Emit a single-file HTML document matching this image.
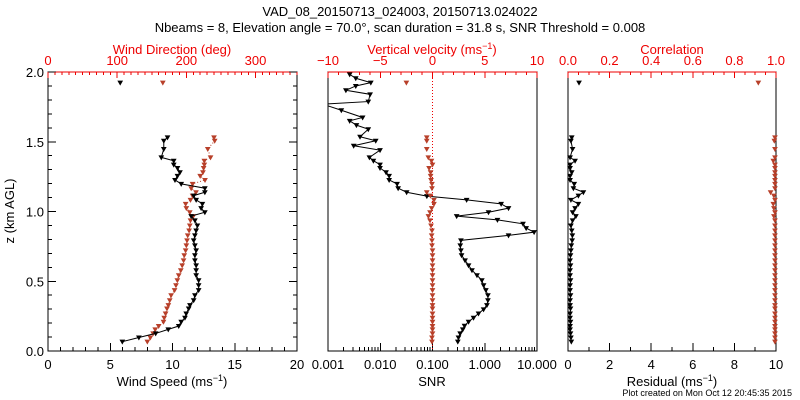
<!DOCTYPE html>
<html><head><meta charset="utf-8"><style>
html,body{margin:0;padding:0;background:#fff;}
svg{display:block;font-family:"Liberation Sans",sans-serif;}
</style></head><body>
<svg id="c" width="800" height="400" xmlns="http://www.w3.org/2000/svg">
<text x="400" y="16" text-anchor="middle" font-size="13">VAD_08_20150713_024003, 20150713.024022</text>
<text x="400" y="32" text-anchor="middle" font-size="13">Nbeams = 8, Elevation angle = 70.0°, scan duration = 31.8 s, SNR Threshold = 0.008</text>
<text x="172" y="54" text-anchor="middle" font-size="13" fill="#e00">Wind Direction (deg)</text>
<text x="432" y="54" text-anchor="middle" font-size="13" fill="#e00">Vertical velocity (ms<tspan dy="-5" font-size="9">−1</tspan><tspan dy="5">)</tspan></text>
<text x="672" y="54" text-anchor="middle" font-size="13" fill="#e00">Correlation</text>
<text x="172" y="386" text-anchor="middle" font-size="13">Wind Speed (ms<tspan dy="-5" font-size="9">−1</tspan><tspan dy="5">)</tspan></text>
<text x="432" y="386" text-anchor="middle" font-size="13">SNR</text>
<text x="672" y="386" text-anchor="middle" font-size="13">Residual (ms<tspan dy="-5" font-size="9">−1</tspan><tspan dy="5">)</tspan></text>
<text x="14" y="211" text-anchor="middle" font-size="13" transform="rotate(-90 14 211)">z (km AGL)</text>
<text x="792" y="396" text-anchor="end" font-size="9">Plot created on Mon Oct 12 20:45:35 2015</text>
</svg>
<script>
// ---- data ----
const windHeights=[0.067,0.097,0.126,0.155,0.179,0.210,0.238,0.269,0.305,0.329,0.364,0.400,0.436,0.471,0.507,0.543,0.579,0.614,0.650,0.686,0.721,0.757,0.793,0.829,0.864,0.900,0.936,0.967,0.995,1.024,1.055,1.083,1.114,1.138,1.167,1.198,1.226,1.255,1.281,1.312,1.336,1.364,1.388,1.448,1.507,1.531,1.924];
const windSpeed=[5.97,7.3,8.65,9.66,10.5,10.7,11.0,11.1,11.3,11.4,11.7,11.8,12.1,12.1,12.1,11.9,11.9,11.9,11.8,11.8,11.9,11.8,11.7,11.8,11.9,12.0,11.8,11.5,12.6,12.3,12.4,11.9,11.7,12.6,12.6,10.7,10.2,10.4,10.6,10.4,10.1,10.1,9.1,9.3,9.3,9.6,5.8];
const windDir=[143.6,148,152,155,160,167,168,170,172,174,176,178,183,185,187,189,192,194,196,197,199,200,201,202,204,205,206,210,205,200,199,206,209,214,207,209,227,220,224,225,226,226,235,231,241,240,166];
const vertVel=[-0.05,-0.05,0.0,0.0,0.0,0.0,0.0,0.0,0.0,0.0,0.0,0.0,0.0,0.0,0.0,0.0,0.0,0.0,0.0,0.0,0.0,-0.05,-0.05,-0.08,-0.05,-0.14,-0.24,-0.39,-0.24,-0.08,0.14,0.14,-0.2,-0.55,-0.05,-0.05,-0.14,-0.18,-0.18,-0.33,0.0,-0.1,-0.4,-0.55,-0.55,-0.55,-2.5];
const residual=[0.16,0.14,0.12,0.1,0.1,0.12,0.1,0.1,0.12,0.1,0.1,0.12,0.1,0.1,0.12,0.1,0.1,0.12,0.1,0.12,0.14,0.16,0.2,0.21,0.18,0.14,0.22,0.38,0.22,0.34,0.5,0.14,0.5,0.74,0.26,0.3,0.1,0.1,0.18,0.1,0.1,0.34,0.1,0.22,0.14,0.18,0.53];
const correlation=[0.995,0.995,0.995,0.995,0.995,0.995,0.995,0.995,0.995,0.995,0.995,0.995,0.995,0.995,0.995,0.995,0.995,0.995,0.995,0.995,0.995,0.995,0.995,0.995,0.995,0.995,0.995,0.99,0.995,0.99,0.987,0.995,0.99,0.974,0.995,0.995,0.995,0.995,0.995,0.995,0.995,0.987,0.995,0.995,0.992,0.995,0.915];
const snrHeights=[0.067,0.097,0.126,0.155,0.181,0.210,0.238,0.269,0.298,0.329,0.364,0.400,0.436,0.471,0.507,0.543,0.579,0.614,0.650,0.686,0.721,0.757,0.793,0.829,0.852,0.881,0.912,0.940,0.967,0.995,1.024,1.055,1.083,1.110,1.138,1.167,1.198,1.226,1.255,1.281,1.312,1.336,1.364,1.388,1.440,1.471,1.507,1.536,1.590,1.619,1.650,1.674,1.726,1.769,1.788,1.840,1.869,1.900,1.924,1.955,1.983];
const snrValues=[0.305,0.314,0.338,0.38,0.41,0.49,0.61,0.76,0.95,1.10,1.15,1.15,1.05,0.95,0.88,0.71,0.57,0.49,0.42,0.36,0.35,0.34,0.35,2.85,8.8,6.2,5.4,1.75,0.29,1.18,2.85,2.06,0.45,0.078,0.032,0.022,0.021,0.0148,0.0148,0.0129,0.0099,0.0099,0.0074,0.0062,0.0099,0.0031,0.0082,0.0041,0.0059,0.0035,0.0026,0.0046,0.0018,0.0008,0.0059,0.0064,0.0022,0.0034,0.0066,0.0034,0.0026];
const heightTicks=["0.0","0.5","1.0","1.5","2.0"];
const speedTicks=["0","5","10","15","20"];
const dirTicks=["0","100","200","300"];
const wTicks=["−10","−5","0","5","10"];
const snrTicks=["0.001","0.010","0.100","1.000","10.000"];
const corrTicks=["0.0","0.2","0.4","0.6","0.8","1.0"];
const resTicks=["0","2","4","6","8","10"];

// ---- layout ----
const svg=document.getElementById('c');
const NS='http://www.w3.org/2000/svg';
const TOP=72,BOT=351;
const P1={l:48,r:297},P2={l:328,r:537},P3={l:568,r:776};
const RED='#e00',MRED='#b8402a';
function yOf(h){return BOT-(h/2.0)*(BOT-TOP);}
function lin(p,min,max){return v=>p.l+(v-min)/(max-min)*(p.r-p.l);}
function logx(p,min,max){return v=>p.l+(Math.log10(Math.max(v,1e-9))-min)/(max-min)*(p.r-p.l);}
const xSpeed=lin(P1,0,20),xDir=lin(P1,0,360),xW=lin(P2,-10,10),xSnr=logx(P2,-3,1),xRes=lin(P3,0,10),xCorr=lin(P3,0,1);
function el(tag,attrs,parent){const e=document.createElementNS(NS,tag);for(const k in attrs)e.setAttribute(k,attrs[k]);(parent||svg).appendChild(e);return e;}
function line(x1,y1,x2,y2,col,g){return el('line',{x1,y1,x2,y2,stroke:col,'stroke-width':1,'shape-rendering':'crispEdges'},g);}
function txt(x,y,s,col,g,anchor){const t=el('text',{x,y,'font-size':13,fill:col,'text-anchor':anchor||'middle'},g);t.textContent=s;return t;}

function panel(p,name){
  const g=el('g',{});
  
  
  el('rect',{x:p.l,y:TOP,width:p.r-p.l,height:BOT-TOP,fill:'none',stroke:'#000','stroke-width':1,'shape-rendering':'crispEdges'},g);
  line(p.l,TOP,p.r,TOP,RED,g);
  return g;
}
function topTicks(g,xf,min,max,step,majorEvery,labels,labVals){
  for(let i=0;min+i*step<=max+1e-9;i++){const v=min+i*step;const x=xf(v);const maj=(i%majorEvery===0);line(x,TOP,x,TOP+(maj?6:3),RED,g);}
  labels.forEach((s,i)=>txt(xf(labVals[i]),65,s,RED,g));
}
function botTicks(g,xf,min,max,step,majorEvery,labels,labVals){
  for(let i=0;min+i*step<=max+1e-9;i++){const v=min+i*step;const x=xf(v);const maj=(i%majorEvery===0);line(x,BOT,x,BOT-(maj?8:4),'#000',g);}
  labels.forEach((s,i)=>txt(xf(labVals[i]),369,s,'#000',g));
}
function marker(x,y,col,g,name){
  const m=el('path',{d:`M${x-2},${y-1.5} L${x+2},${y-1.5} L${x},${y+2} Z`,fill:col,stroke:col,'stroke-width':1},g);
  
  
}
function series(g,xs,hs,col,name,lineStyle){
  const pts=hs.map((h,i)=>[xs[i],yOf(h)]);
  if(lineStyle){
    // break line where height gap is large (missing data)
    let segs=[[pts[0]]];
    for(let i=1;i<pts.length;i++){
      if(hs[i]-hs[i-1]>0.2)segs.push([]);
      segs[segs.length-1].push(pts[i]);
    }
    segs.filter(s=>s.length>1).forEach(s=>{
      const pl=el('polyline',{points:s.map(p=>p.join(',')).join(' '),fill:'none',stroke:col,'stroke-width':1,'stroke-dasharray':lineStyle==='dot'?'1,2':'none'},g);
      
      
    });
  }
  pts.forEach(p=>marker(p[0],p[1],col,g,name+'-point'));
}

// Panel 1
const g1=panel(P1,'wind-panel');
for(let i=0;i<=20;i++){const y=yOf(i*0.1);const L=(i%5===0)?8:4;line(P1.l,y,P1.l+L,y,'#000',g1);line(P1.r,y,P1.r-L,y,'#000',g1);}
heightTicks.forEach((s,i)=>txt(P1.l-4,yOf(i*0.5)+5,s,'#000',g1,'end'));
topTicks(g1,xDir,0,360,10,10,dirTicks,[0,100,200,300]);
botTicks(g1,xSpeed,0,20,1,5,speedTicks,[0,5,10,15,20]);
series(g1,windDir.map(xDir),windHeights,MRED,'wind-direction','dot');
series(g1,windSpeed.map(xSpeed),windHeights,'#000','wind-speed','solid');

// Panel 2
const g2=panel(P2,'velocity-snr-panel');
topTicks(g2,xW,-10,10,1,5,wTicks,[-10,-5,0,5,10]);
for(let d=-3;d<=1;d++){const x=xSnr(Math.pow(10,d));line(x,BOT,x,BOT-8,'#000',g2);if(d<1)for(let k=2;k<=9;k++){const xm=xSnr(k*Math.pow(10,d));line(xm,BOT,xm,BOT-4,'#000',g2);}}
snrTicks.forEach((s,i)=>txt(xSnr(Math.pow(10,i-3)),369,s,'#000',g2));
const zl=el('line',{x1:xW(0),y1:TOP,x2:xW(0),y2:BOT,stroke:RED,'stroke-width':1,'stroke-dasharray':'1,2'},g2);


const clip=el('clipPath',{id:'cp2'});el('rect',{x:P2.l,y:TOP,width:P2.r-P2.l,height:BOT-TOP},clip);
const g2c=el('g',{'clip-path':'url(#cp2)'},g2);
series(g2c,snrValues.map(xSnr),snrHeights,'#000','snr','solid');
series(g2,vertVel.map(xW),windHeights,MRED,'vertical-velocity',null);

// Panel 3
const g3=panel(P3,'residual-correlation-panel');
topTicks(g3,xCorr,0,1,0.05,4,corrTicks,[0,0.2,0.4,0.6,0.8,1.0]);
botTicks(g3,xRes,0,10,1,2,resTicks,[0,2,4,6,8,10]);
series(g3,correlation.map(xCorr),windHeights,MRED,'correlation',null);
series(g3,residual.map(xRes),windHeights,'#000','residual','solid');
</script>
</body></html>
